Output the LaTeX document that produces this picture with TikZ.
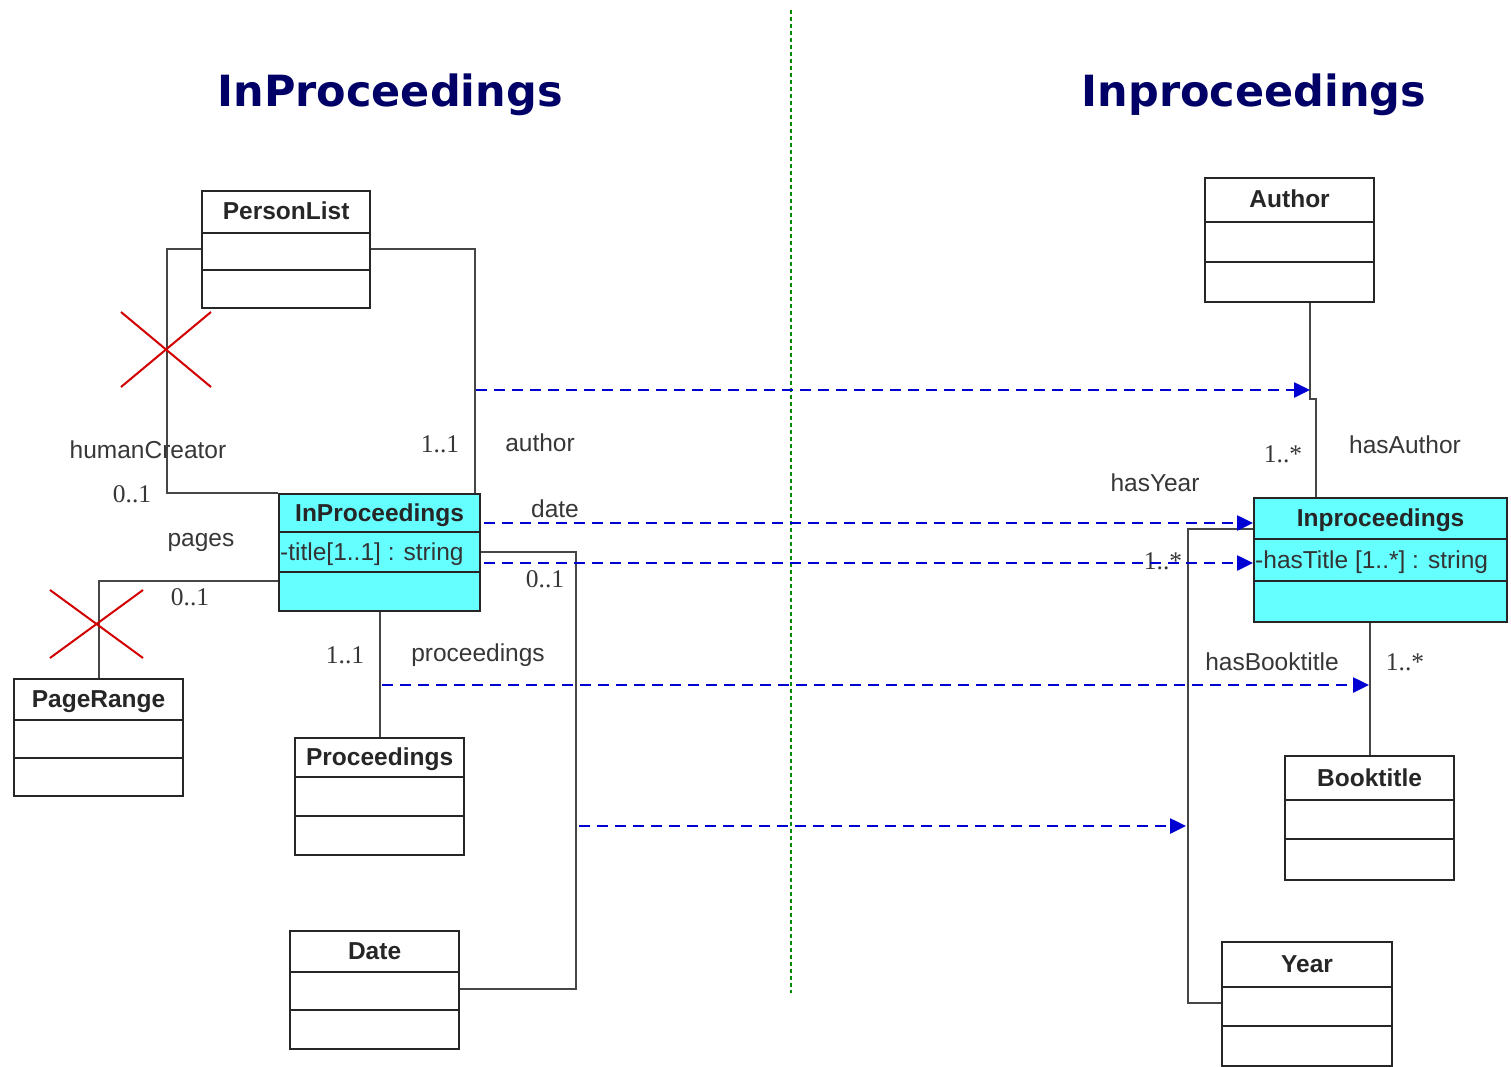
\documentclass[tikz,border=0pt]{standalone}
\usepackage{fontspec}
\setmainfont{Liberation Sans}
\newfontfamily\headingfont{DejaVu Sans}
\newfontfamily\multfont{Liberation Serif}
\usetikzlibrary{arrows.meta}

\definecolor{titleblue}{RGB}{0,0,102}
\definecolor{mapblue}{RGB}{0,0,210}
\definecolor{classcyan}{RGB}{102,255,255}
\definecolor{linegray}{RGB}{70,70,70}
\definecolor{labelgray}{RGB}{55,55,55}
\definecolor{crossred}{RGB}{210,0,0}
\definecolor{sepgreen}{RGB}{0,140,0}

% UML class: [fill]{name}{top-left x,y}{width}{height}{divider 1 y}{divider 2 y}{class name}
\newcommand\umlclass[8][white]{%
  \node[classbox, fill=#1, minimum width=#4pt, minimum height=#5pt] (#2) at (#3) {};
  \draw[divider] (#2.west |- 0,#6) -- (#2.east |- 0,#6);
  \draw[divider] (#2.west |- 0,#7) -- (#2.east |- 0,#7);
  \path (#2.north) -- (#2.north |- 0,#6) node[classname, midway] (#2-name) {#8};
}

\begin{document}
\begin{tikzpicture}[x=1pt,y=-1pt,
  classbox/.style={draw=black!85, line width=2.2pt, anchor=north west, inner sep=0pt},
  divider/.style={draw=black!85, line width=2.2pt},
  classname/.style={font=\fontsize{24.5}{28}\selectfont\bfseries, text=black!85,
    inner sep=0pt, text height=17pt, text depth=0pt},
  attr/.style={font=\fontsize{24.5}{28}\selectfont, text=black!80, anchor=west,
    inner sep=0pt, text height=17pt, text depth=0pt},
  assoc/.style={draw=linegray, line width=2.2pt},
  rolelabel/.style={font=\fontsize{24.5}{28}\selectfont, text=labelgray,
    inner sep=0pt, text height=17pt, text depth=0pt},
  mult/.style={font=\multfont\fontsize{25.5}{28}\selectfont, text=labelgray,
    inner sep=0pt, text height=17pt, text depth=0pt},
  mapping/.style={draw=mapblue, line width=2.5pt, dash pattern=on 11pt off 7pt,
    -{Triangle[length=16pt,width=15pt]}},
  cross/.style={draw=crossred, line width=2pt},
  heading/.style={font=\headingfont\fontsize{43}{50}\selectfont\bfseries, text=titleblue,
    inner sep=0pt, text height=31pt, text depth=0pt}
]
\useasboundingbox[fill=white] (0,0) rectangle (1511,1067);

% headings and the separator between the two models
\node[heading] (lefttitle) at (390,91) {InProceedings};
\node[heading] (righttitle) at (1254,91) {Inproceedings};
\coordinate (septop) at (791,10);
\coordinate (sepbottom) at (791,993);
\draw[sepgreen, line width=1.5pt, dash pattern=on 4pt off 3pt] (septop) -- (sepbottom);

% ---------- left model ----------
\umlclass{pl}{201,190}{168}{117}{233}{270}{PersonList}
\umlclass[classcyan]{ip}{278,493}{201}{117}{532}{572}{InProceedings}
\umlclass{pr}{13,678}{169}{117}{720}{758}{PageRange}
\umlclass{pc}{294,737}{169}{117}{777}{816}{Proceedings}
\umlclass{dt}{289,930}{169}{118}{972}{1010}{Date}
\node[attr, xshift=2pt] (ip-attr) at (ip.west |- 0,552) {-title[1..1] : string};

% associations
\draw[assoc] (pl.west |- 0,249) -- ++(-34,0) |- (ip.north west);
\draw[assoc] (pl.east |- 0,249) -| ([xshift=-6pt]ip.north east);
\draw[assoc] (ip.west |- 0,581) -| (pr.north);
\draw[assoc] (ip.south) -- (pc.north);
\draw[assoc] (ip.east |- 0,552) -- ++(95,0) |- (dt.east |- 0,989);

% removed associations
\draw[cross] (121,312) -- (211,387) (121,387) -- (211,312);
\draw[cross] (50,590) -- (143,658) (50,658) -- (143,590);

% role names and multiplicities
\node[rolelabel] (hc-role) at (148,450) {humanCreator};
\node[mult] (hc-mult) at (132,494) {0..1};
\node[mult] (au-mult) at (440,444) {1..1};
\node[rolelabel] (au-role) at (540,443) {author};
\node[rolelabel] (dt-role) at (555,509) {date};
\node[rolelabel] (pg-role) at (201,538) {pages};
\node[mult] (pg-mult) at (190,597) {0..1};
\node[mult] (dt-mult) at (545,579) {0..1};
\node[mult] (pc-mult) at (345,655) {1..1};
\node[rolelabel] (pc-role) at (478,653) {proceedings};

% ---------- right model ----------
\umlclass{au}{1204,177}{169}{124}{222}{262}{Author}
\umlclass[classcyan]{ipr}{1253,497}{253}{124}{539}{581}{Inproceedings}
\umlclass{bt}{1284,755}{169}{124}{800}{839}{Booktitle}
\umlclass{yr}{1221,941}{170}{124}{987}{1026}{Year}
\node[attr, xshift=2pt] (ipr-attr) at (ipr.west |- 0,560) {-hasTitle [1..*] : string};

\draw[assoc] (au.south -| 1310,0) |- (1316,399) -- (ipr.north -| 1316,0);
\draw[assoc] (ipr.west |- 0,529) -- ++(-65,0) |- (yr.west |- 0,1003);
\draw[assoc] (ipr.south -| bt.north) -- (bt.north);

\node[mult] (ha-mult) at (1283,454) {1..*};
\node[rolelabel] (ha-role) at (1405,445) {hasAuthor};
\node[rolelabel] (hy-role) at (1155,483) {hasYear};
\node[mult] (hy-mult) at (1163,561) {1..*};
\node[rolelabel] (hb-role) at (1272,662) {hasBooktitle};
\node[mult] (hb-mult) at (1405,662) {1..*};

% ---------- mappings between the models ----------
\coordinate (authorsrc) at (476,390);
\coordinate (authordst) at (1310,390);
\coordinate (procsrc) at (382,685);
\coordinate (procdst) at (1369,685);
\coordinate (datesrc) at (579,826);
\coordinate (datedst) at (1186,826);
\draw[mapping] (authorsrc) -- (authordst);
\draw[mapping] ([xshift=3pt]ip.east |- 0,523) -- (ipr.west |- 0,523);
\draw[mapping] ([xshift=3pt]ip.east |- 0,563) -- (ipr.west |- 0,563);
\draw[mapping] (procsrc) -- (procdst);
\draw[mapping] (datesrc) -- (datedst);
\end{tikzpicture}
\end{document}
